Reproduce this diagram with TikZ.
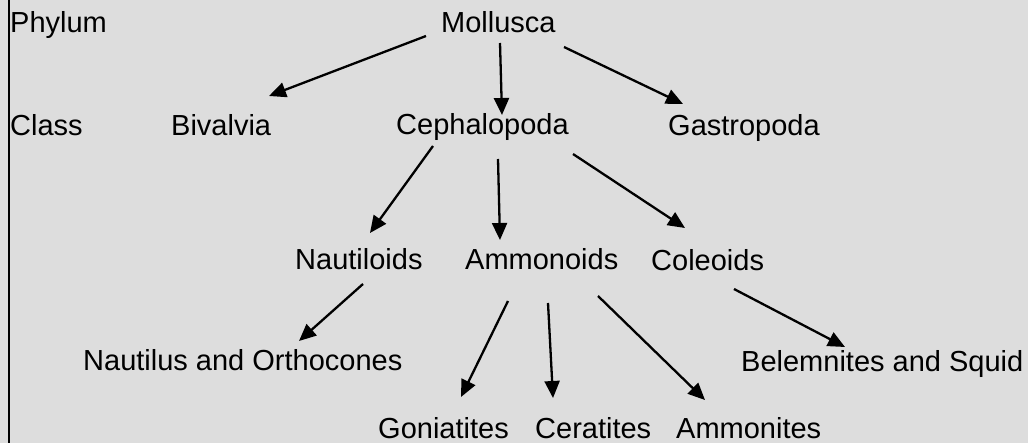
\documentclass[tikz,border=0pt]{standalone}
\usepackage{fontspec}
\setmainfont{Liberation Sans}
\usepackage{tikz}
\usetikzlibrary{arrows.meta}
\definecolor{panelgray}{HTML}{DDDDDD}

\begin{document}
\begin{tikzpicture}[x=1pt,y=-1pt,
    taxon/.style={anchor=base west,inner sep=0pt,font=\fontsize{29}{34}\selectfont},
    link/.style={line width=2.3pt,-{Triangle[length=17pt,width=15pt]}}]

      \fill [panelgray] (0,0) rectangle (1028,443);
      \useasboundingbox (0,0) rectangle (1028,443);
      \draw [line width=2pt] (8.5,0) -- (8.5,443);

      \node [taxon] (phylum) at (10,33) {Phylum};
      \node [taxon] (mollusca) at (441,33) {Mollusca};

      \node [taxon] (class) at (10,136) {Class};
      \node [taxon] (bivalvia) at (171,136) {Bivalvia};
      \node [taxon] (cephalopoda) at (396,135) {Cephalopoda};
      \node [taxon] (gastropoda) at (668,136) {Gastropoda};

      \node [taxon] (nautiloids) at (295,270) {Nautiloids};
      \node [taxon] (ammonoids) at (465,270) {Ammonoids};
      \node [taxon] (coleoids) at (651,271) {Coleoids};

      \node [taxon] (nautilus) at (83,371) {Nautilus and Orthocones};
      \node [taxon] (belemnites) at (741,372) {Belemnites and Squid};

      \node [taxon] (goniatites) at (378,438) {Goniatites};
      \node [taxon] (ceratites) at (535,438) {Ceratites};
      \node [taxon] (ammonites) at (676,438) {Ammonites};

      \draw [link] ([shift={(-15,3)}]mollusca.base west) -- ([shift={(98,-40)}]bivalvia.base west);
      \draw [link] ([shift={(59,10)}]mollusca.base west) -- ([shift={(106,-20)}]cephalopoda.base west);
      \draw [link] ([shift={(123,14)}]mollusca.base west) -- ([shift={(15,-32)}]gastropoda.base west);

      \draw [link] ([shift={(37,11)}]cephalopoda.base west) -- ([shift={(75,-37)}]nautiloids.base west);
      \draw [link] ([shift={(102,24)}]cephalopoda.base west) -- ([shift={(35,-30)}]ammonoids.base west);
      \draw [link] ([shift={(177,19)}]cephalopoda.base west) -- ([shift={(34,-43)}]coleoids.base west);

      \draw [link] ([shift={(68,14)}]nautiloids.base west) -- ([shift={(216,-30)}]nautilus.base west);
      \draw [link] ([shift={(83,18)}]coleoids.base west) -- ([shift={(104,-25)}]belemnites.base west);

      \draw [link] ([shift={(43,31)}]ammonoids.base west) -- ([shift={(83,-41)}]goniatites.base west);
      \draw [link] ([shift={(83,33)}]ammonoids.base west) -- ([shift={(18,-40)}]ceratites.base west);
      \draw [link] ([shift={(133,26)}]ammonoids.base west) -- ([shift={(29,-38)}]ammonites.base west);

    \end{tikzpicture}
\end{document}
